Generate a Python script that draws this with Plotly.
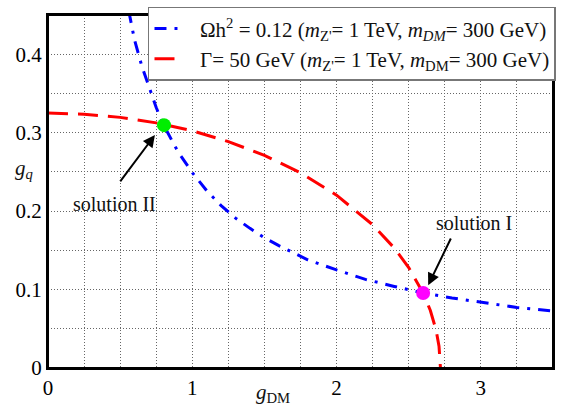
import plotly.graph_objects as go

# Relic density curve (Omega h^2 = 0.12)
relic_gdm = [0.56, 0.6, 0.65, 0.7, 0.75, 0.8, 0.9, 1.0, 1.1, 1.2, 1.3, 1.4, 1.5,
             1.6, 1.8, 2.0, 2.2, 2.4, 2.6, 2.8, 3.0, 3.25, 3.5]
relic_gq = [0.455, 0.418, 0.385, 0.357, 0.332, 0.310, 0.276, 0.249, 0.226, 0.207,
            0.191, 0.178, 0.166, 0.156, 0.138, 0.125, 0.113, 0.104, 0.0957, 0.0893,
            0.0836, 0.0772, 0.0726]

# Width curve (Gamma = 50 GeV)
width_gdm = [0.0, 0.25, 0.5, 0.75, 1.0, 1.25, 1.5, 1.75, 2.0, 2.25, 2.4, 2.5,
             2.6, 2.65, 2.69, 2.71, 2.72]
width_gq = [0.325, 0.3236, 0.3195, 0.3125, 0.3025, 0.2886, 0.2711, 0.2488, 0.2203,
            0.1826, 0.1529, 0.128, 0.0955, 0.0733, 0.0481, 0.0278, 0.0]

# Solutions
sol2 = (0.804, 0.3096)
sol1 = (2.60, 0.0957)

# Tick labels (labelled ticks) and grid positions (every grid line)
x_labels = {0: "0", 1: "1", 2: "2", 3: "3"}
x_grid = [0, 0.25, 0.5, 0.75, 1, 1.25, 1.5, 1.75, 2, 2.25, 2.5, 2.75, 3, 3.25, 3.5]
y_labels = {0: "0", 0.1: "0.1", 0.2: "0.2", 0.3: "0.3", 0.4: "0.4"}
y_grid = [0, 0.05, 0.1, 0.15, 0.2, 0.25, 0.3, 0.35, 0.4, 0.45]

FONT = "Liberation Serif"
SP = "&nbsp;&nbsp;"

fig = go.Figure()
fig.add_trace(go.Scatter(
    x=relic_gdm, y=relic_gq, mode="lines",
    line=dict(color="#0000ff", width=3, dash="12px,8px,3px,8px"),
    name=SP + "Ωh<sup>2</sup> = 0.12 (<i>m</i><sub>Z'</sub>= 1 TeV, <i>m</i><sub><i>DM</i></sub>= 300 GeV)",
))
fig.add_trace(go.Scatter(
    x=width_gdm, y=width_gq, mode="lines",
    line=dict(color="#ff0000", width=3, dash="20px,10px"),
    name=SP + "Γ= 50 GeV (<i>m</i><sub>Z'</sub>= 1 TeV, <i>m</i><sub>DM</sub>= 300 GeV)",
))
fig.add_trace(go.Scatter(
    x=[sol2[0]], y=[sol2[1]], mode="markers",
    marker=dict(color="#00ee00", size=14), showlegend=False,
))
fig.add_trace(go.Scatter(
    x=[sol1[0]], y=[sol1[1]], mode="markers",
    marker=dict(color="#ff00ff", size=14), showlegend=False,
))

GRIDC = "#666"
GDASH = "1px,2px"

x_text = [x_labels.get(v, "") for v in x_grid]
y_text = [next((t for k, t in y_labels.items() if abs(k - v) < 1e-9), "") for v in y_grid]

fig.update_layout(
    xaxis=dict(range=[0, 3.5], tickmode="array", tickvals=x_grid, ticktext=x_text,
               showline=True, mirror=True, linecolor="black", linewidth=2,
               zeroline=False, ticks="",
               tickfont=dict(size=21, family=FONT, color="black"),
               showgrid=True, gridcolor=GRIDC, gridwidth=1, griddash=GDASH),
    yaxis=dict(range=[0, 0.45], tickmode="array", tickvals=y_grid, ticktext=y_text,
               showline=True, mirror=True, linecolor="black", linewidth=2,
               zeroline=False, ticks="",
               tickfont=dict(size=21, family=FONT, color="black"),
               showgrid=True, gridcolor=GRIDC, gridwidth=1, griddash=GDASH),
)

# Plot frame
fig.add_shape(type="rect", xref="paper", yref="paper", x0=0, y0=0, x1=1, y1=1,
              line=dict(color="black", width=2), layer="above")

# Axis labels
fig.add_annotation(text="<i>g</i><sub><i>q</i></sub>", xref="paper", yref="paper",
                   x=-0.026, y=0.565, showarrow=False, xanchor="right", yanchor="middle",
                   font=dict(size=21, family=FONT, color="#111"))
fig.add_annotation(text="<i>g</i><sub>DM</sub>", xref="paper", yref="paper",
                   x=0.445, y=-0.072, showarrow=False, xanchor="center", yanchor="middle",
                   font=dict(size=21, family=FONT, color="#111"))

# Solution labels and arrows
fig.add_annotation(text="solution II", x=0.46, y=0.209, xref="x", yref="y",
                   showarrow=False, font=dict(size=20, family=FONT, color="#111"))
fig.add_annotation(text="", x=0.741, y=0.297, ax=0.493, ay=0.236,
                   xref="x", yref="y", axref="x", ayref="y",
                   showarrow=True, arrowhead=2, arrowsize=1.2, arrowwidth=2, arrowcolor="#000")
fig.add_annotation(text="solution I", x=2.955, y=0.185, xref="x", yref="y",
                   showarrow=False, font=dict(size=20, family=FONT, color="#111"))
fig.add_annotation(text="", x=2.635, y=0.1055, ax=2.797, ay=0.167,
                   xref="x", yref="y", axref="x", ayref="y",
                   showarrow=True, arrowhead=2, arrowsize=1.2, arrowwidth=2, arrowcolor="#000")

fig.update_layout(
    width=563, height=411,
    margin=dict(l=48, r=10, t=15, b=43, autoexpand=False),
    paper_bgcolor="white", plot_bgcolor="white",
    font=dict(family=FONT, size=21, color="#111"),
    legend=dict(x=0.198, y=1.023, xanchor="left", yanchor="top",
                bgcolor="white", bordercolor="#777", borderwidth=1.5,
                font=dict(size=21, family=FONT, color="#111"),
                tracegroupgap=0),
)

fig.write_html("out.html", config={"displayModeBar": False},
               post_script="document.body.style.margin='0';document.body.style.overflow='hidden';")
